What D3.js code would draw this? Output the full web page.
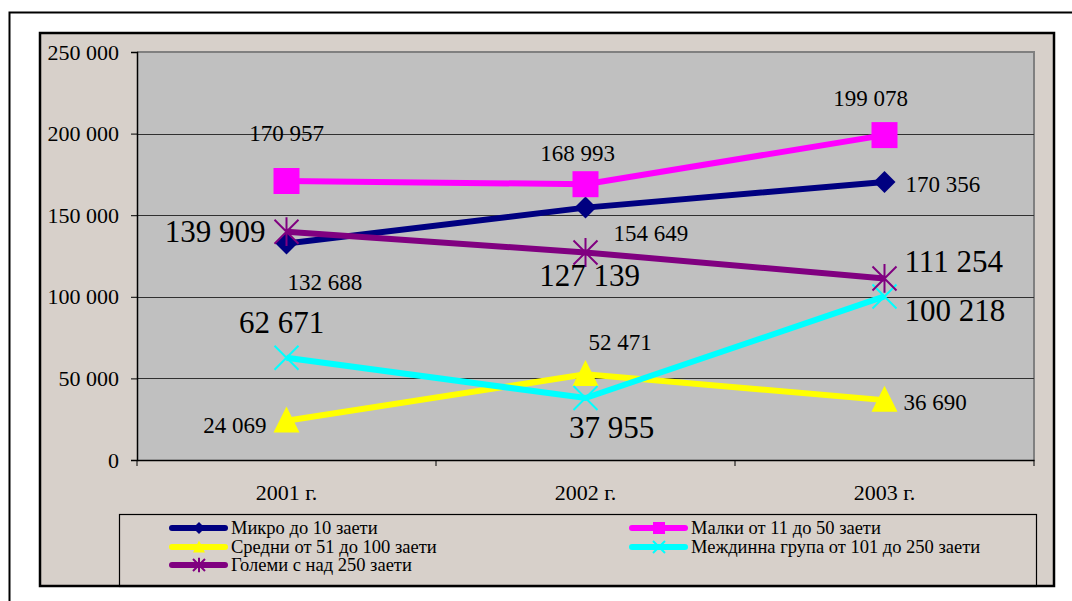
<!DOCTYPE html>
<html><head><meta charset="utf-8">
<script src="https://cdn.jsdelivr.net/npm/d3@7/dist/d3.min.js"></script>
<style>html,body{margin:0;padding:0;background:#fff;overflow:hidden}svg{display:block}
svg text{font-family:"Liberation Serif","Times New Roman",Times,Tinos,"DejaVu Serif",serif !important;fill:#000}</style>
</head><body>
<svg id="c" width="1072" height="601"></svg>
<script>
const categories = ["2001 г.", "2002 г.", "2003 г."];
const yTicks = [0, 50000, 100000, 150000, 200000, 250000];
const seriesNames = ["Микро до 10 заети", "Малки от 11 до 50 заети", "Средни от 51 до 100 заети", "Междинна група от 101 до 250 заети", "Големи с над 250 заети"];
const micro = [132688, 154649, 170356];
const small = [170957, 168993, 199078];
const medium = [24069, 52471, 36690];
const middle = [62671, 37955, 100218];
const large = [139909, 127139, 111254];

const seriesValues = [micro, small, medium, middle, large];
const colors = ["#000080", "#FF00FF", "#FFFF00", "#00FFFF", "#800080"];
const markers = ["diamond", "square", "triangle", "x", "star"];
// label styling: [dx, dy, anchor, fontSize]
const labelStyle = [
  [[1,47,"start",23],[28,33,"start",23],[21,10,"start",23]],
  [[0,-40,"middle",23],[-8,-23,"middle",23],[-14,-29,"middle",23]],
  [[-20,12,"end",23],[3,-24,"start",23],[19,10,"start",23]],
  [[-5,-25,"middle",31],[26,40,"middle",31],[20,25,"start",31]],
  [[-21,10,"end",31],[4,33,"middle",31],[20,-6,"start",31]]
];

const svg = d3.select("#c");
const fmt = v => d3.format(",")(v).replace(/,/g, " ");

// outer frame
svg.append("path").attr("d","M9.5,601 V12.5 H1072").attr("fill","none").attr("stroke","#000").attr("stroke-width",2);
// chart area
svg.append("rect").attr("x",40).attr("y",33).attr("width",1014).attr("height",553).attr("fill","#D7D0CA").attr("stroke","#000").attr("stroke-width",2.5);

const L = 137, R = 1034, T = 52, B = 460;
const x = d3.scaleBand().domain(categories).range([L, R]);
const y = d3.scaleLinear().domain([0, 250000]).range([B, T]);
const cx = c => x(c) + x.bandwidth() / 2;

// plot area
svg.append("rect").attr("x",L).attr("y",T).attr("width",R-L).attr("height",B-T).attr("fill","#C0C0C0");
svg.append("path").attr("d",`M${L},${T} H${R} V${B}`).attr("fill","none").attr("stroke","#808080").attr("stroke-width",2);

// gridlines
svg.append("g").selectAll("line").data(yTicks.filter(t => t > 0 && t < 250000)).join("line")
  .attr("x1",L).attr("x2",R).attr("y1",d=>Math.round(y(d))+0.5).attr("y2",d=>Math.round(y(d))+0.5)
  .attr("stroke","#303030").attr("stroke-width",1);

// axes
const yAxis = d3.axisLeft(y).tickValues(yTicks).tickSize(6).tickPadding(12).tickFormat(fmt);
const gy = svg.append("g").attr("transform",`translate(${L},0)`).call(yAxis).attr("font-family",null);
gy.select(".domain").attr("stroke","#000").attr("stroke-width",1.5);
gy.selectAll(".tick line").attr("stroke","#000");
gy.selectAll("text").attr("font-size",22).attr("fill","#000");

const xAxis = d3.axisBottom(x).tickSize(0).tickPadding(24);
const gx = svg.append("g").attr("transform",`translate(0,${B})`).call(xAxis).attr("font-family",null);
gx.select(".domain").attr("stroke","#000").attr("stroke-width",1.5);
gx.selectAll("text").attr("font-size",22).attr("fill","#000");
// category separator ticks
const sepTicks = categories.map(c => x(c)).concat([R]);
svg.append("g").selectAll("line").data(sepTicks).join("line")
  .attr("x1",d=>d).attr("x2",d=>d).attr("y1",B).attr("y2",B+6).attr("stroke","#000").attr("stroke-width",1);

function drawMarker(g, type, color, s) {
  if (type === "diamond") {
    g.append("path").attr("d",`M0,${-s}L${s},0L0,${s}L${-s},0Z`).attr("fill",color);
  } else if (type === "square") {
    g.append("rect").attr("x",-s).attr("y",-s).attr("width",2*s).attr("height",2*s).attr("fill",color);
  } else if (type === "triangle") {
    g.append("path").attr("d",`M0,${-s*1.1}L${s},${s*0.9}L${-s},${s*0.9}Z`).attr("fill",color);
  } else if (type === "x") {
    g.append("path").attr("d",`M${-s},${-s}L${s},${s}M${s},${-s}L${-s},${s}`).attr("stroke",color).attr("stroke-width",2);
  } else if (type === "star") {
    g.append("path").attr("d",`M${-s},${-s}L${s},${s}M${s},${-s}L${-s},${s}M0,${-s*1.2}V${s*1.2}`).attr("stroke",color).attr("stroke-width",2);
  }
}
const markerSize = [11, 13, 13, 12, 12];

const line = d3.line().x((d,i)=>cx(categories[i])).y(d=>y(d));
seriesValues.forEach((vals, si) => {
  svg.append("path").datum(vals).attr("d", line).attr("fill","none")
    .attr("stroke", colors[si]).attr("stroke-width",6);
});
seriesValues.forEach((vals, si) => {
  vals.forEach((v, i) => {
    const g = svg.append("g").attr("transform",`translate(${cx(categories[i])},${y(v)})`);
    drawMarker(g, markers[si], colors[si], markerSize[si]);
  });
});
// data labels
seriesValues.forEach((vals, si) => {
  vals.forEach((v, i) => {
    const st = labelStyle[si][i];
    svg.append("text").attr("x", cx(categories[i]) + st[0]).attr("y", y(v) + st[1])
      .attr("text-anchor", st[2]).attr("font-size", st[3]).text(fmt(v));
  });
});

// legend
svg.append("rect").attr("x",119.5).attr("y",514.5).attr("width",917).attr("height",72).attr("fill","none").attr("stroke","#000").attr("stroke-width",1.2);
const legendPos = [[170,528],[630,528],[170,547],[630,547],[170,565]];
seriesNames.forEach((name, si) => {
  const [lx, ly] = legendPos[si];
  const g = svg.append("g");
  g.append("line").attr("x1",lx+2).attr("x2",lx+55).attr("y1",ly).attr("y2",ly)
    .attr("stroke",colors[si]).attr("stroke-width",6).attr("stroke-linecap","round");
  const m = g.append("g").attr("transform",`translate(${lx+29},${ly})`);
  drawMarker(m, markers[si], colors[si], 6);
  g.append("text").attr("x",lx+61).attr("y",ly+6).attr("font-size",18.5).text(name);
});
</script>
</body></html>
